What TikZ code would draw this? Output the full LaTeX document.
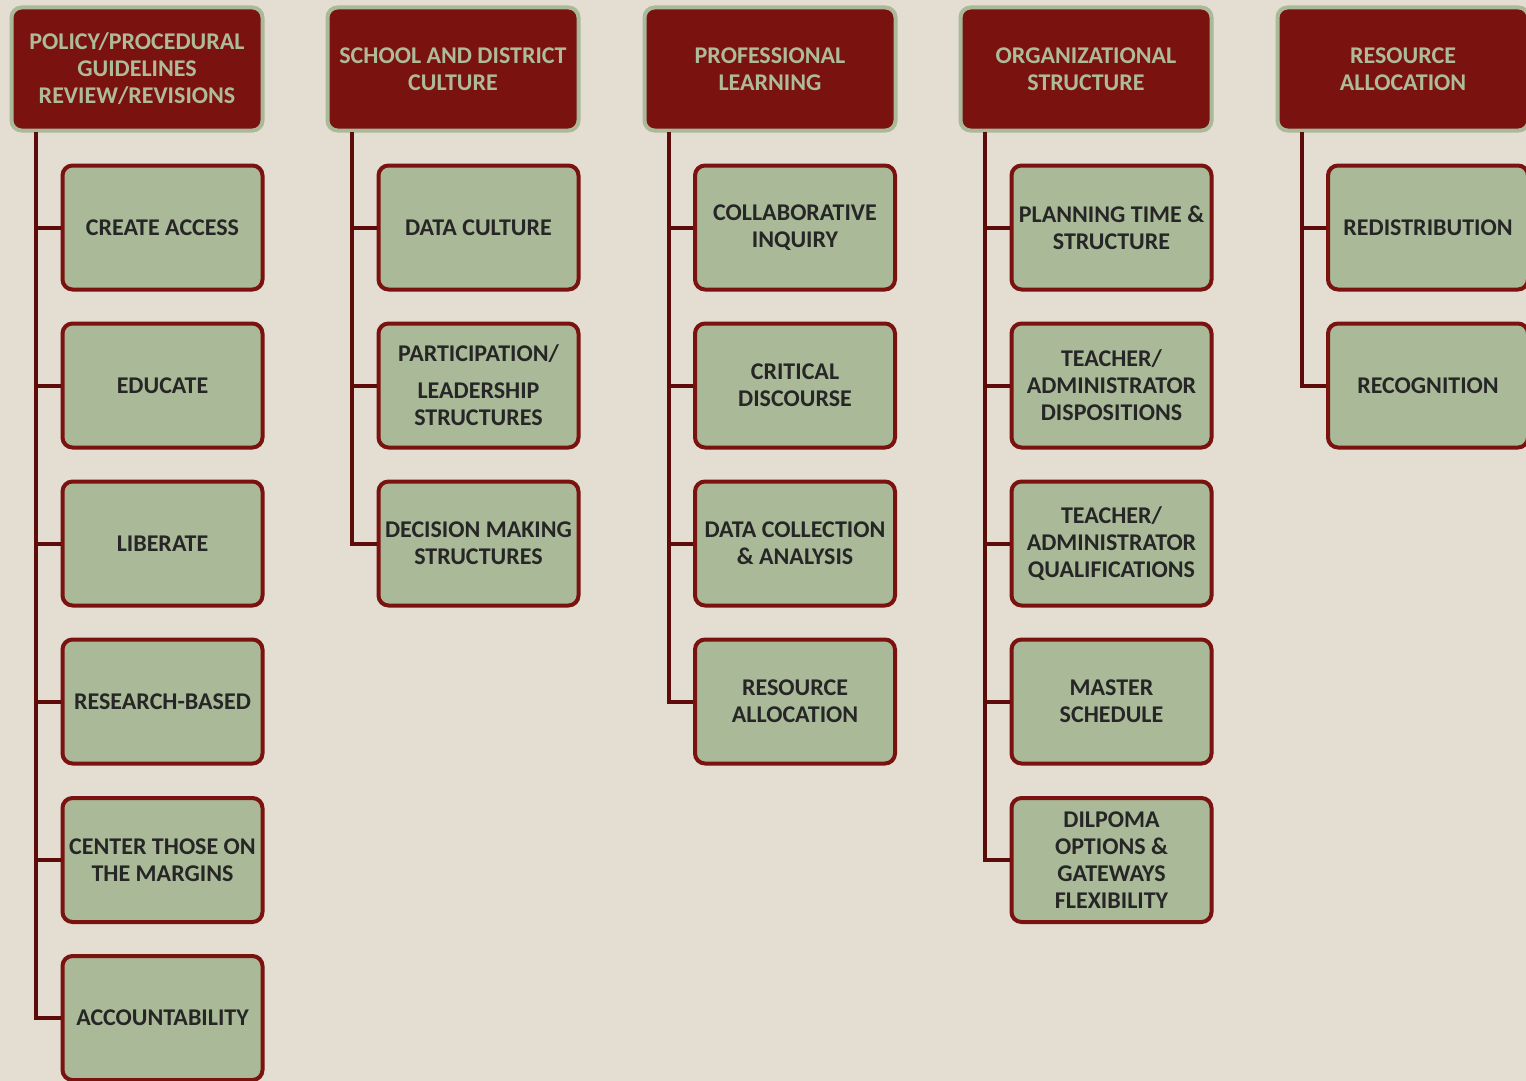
\documentclass[tikz,border=0pt]{standalone}
\usepackage{fontspec}
\setmainfont{Carlito}
\definecolor{bg}{HTML}{E3DDD2}
\definecolor{dred}{HTML}{7A1210}
\definecolor{sage}{HTML}{AAB998}
\definecolor{linec}{HTML}{5E0C0A}
\definecolor{txt}{HTML}{262626}
\definecolor{htxt}{HTML}{AEBB99}
\begin{document}
\begin{tikzpicture}[x=1pt,y=-1pt,
  hdr/.style={draw=sage, fill=dred, line width=4pt, rounded corners=10pt,
    minimum width=251pt, minimum height=123pt, align=center, inner sep=2pt,
    text=htxt, font=\fontsize{24}{27}\selectfont\bfseries},
  kid/.style={draw=dred, fill=sage, line width=4pt, rounded corners=10pt,
    minimum width=200pt, minimum height=124pt, align=center, inner sep=2pt,
    text=txt, font=\fontsize{24}{27}\selectfont\bfseries},
  conn/.style={draw=linec, line width=4pt}]
\useasboundingbox (0,0) rectangle (1526,1081);
\fill[bg] (0,0) rectangle (1526,1081);

% headers
\node[hdr] (h1) at (137,69) {POLICY/PROCEDURAL\\GUIDELINES\\REVIEW/REVISIONS};
\node[hdr] (h2) at (453,69) {SCHOOL AND DISTRICT\\CULTURE};
\node[hdr] (h3) at (770,69) {PROFESSIONAL\\LEARNING};
\node[hdr] (h4) at (1086,69) {ORGANIZATIONAL\\STRUCTURE};
\node[hdr] (h5) at (1403,69) {RESOURCE\\ALLOCATION};

% line tops
\coordinate (t1) at (36,132);
\coordinate (t2) at (352,132);
\coordinate (t3) at (669,132);
\coordinate (t4) at (985,132);
\coordinate (t5) at (1302,132);

% column 1
\node[kid] (a1) at (162.5,227.5) {CREATE ACCESS};
\node[kid] (a2) at (162.5,385.5) {EDUCATE};
\node[kid] (a3) at (162.5,543.5) {LIBERATE};
\node[kid] (a4) at (162.5,701.5) {RESEARCH-BASED};
\node[kid] (a5) at (162.5,860) {CENTER THOSE ON\\THE MARGINS};
\node[kid] (a6) at (162.5,1018) {ACCOUNTABILITY};

% column 2
\node[kid] (b1) at (478.5,227.5) {DATA CULTURE};
\node[kid] (b2) at (478.5,385.5) {PARTICIPATION/\\[10pt]LEADERSHIP\\STRUCTURES};
\node[kid] (b3) at (478.5,543.5) {DECISION MAKING\\STRUCTURES};

% column 3
\node[kid] (c1) at (795,227.5) {COLLABORATIVE\\INQUIRY};
\node[kid] (c2) at (795,385.5) {CRITICAL\\DISCOURSE};
\node[kid] (c3) at (795,543.5) {DATA COLLECTION\\\& ANALYSIS};
\node[kid] (c4) at (795,701.5) {RESOURCE\\ALLOCATION};

% column 4
\node[kid] (d1) at (1111.5,227.5) {PLANNING TIME \&\\STRUCTURE};
\node[kid] (d2) at (1111.5,385.5) {TEACHER/\\ADMINISTRATOR\\DISPOSITIONS};
\node[kid] (d3) at (1111.5,543.5) {TEACHER/\\ADMINISTRATOR\\QUALIFICATIONS};
\node[kid] (d4) at (1111.5,701.5) {MASTER\\SCHEDULE};
\node[kid] (d5) at (1111.5,860) {DILPOMA\\OPTIONS \&\\GATEWAYS\\FLEXIBILITY};

% column 5
\node[kid] (e1) at (1428,227.5) {REDISTRIBUTION};
\node[kid] (e2) at (1428,385.5) {RECOGNITION};

% connectors
\foreach \k in {a1,a2,a3,a4,a5,a6} \draw[conn] (t1) |- (\k.west);
\foreach \k in {b1,b2,b3} \draw[conn] (t2) |- (\k.west);
\foreach \k in {c1,c2,c3,c4} \draw[conn] (t3) |- (\k.west);
\foreach \k in {d1,d2,d3,d4,d5} \draw[conn] (t4) |- (\k.west);
\foreach \k in {e1,e2} \draw[conn] (t5) |- (\k.west);
\end{tikzpicture}
\end{document}
